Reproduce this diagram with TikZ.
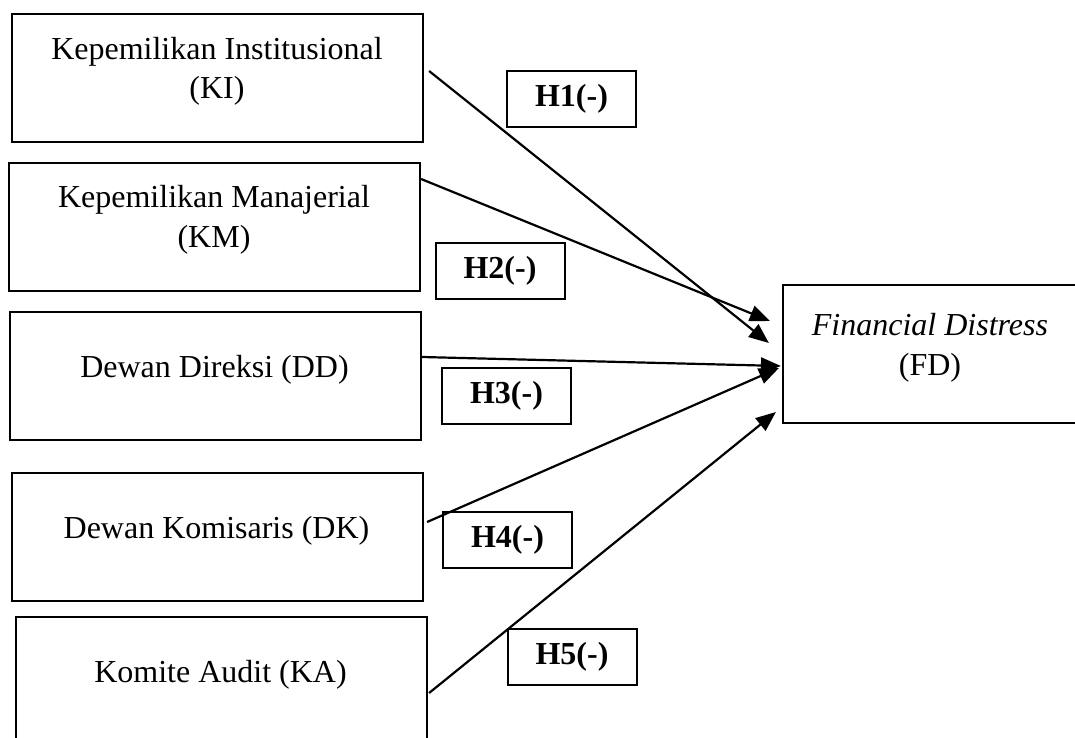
\documentclass[tikz,border=0pt]{standalone}
\usepackage{fontspec}
\setmainfont{Liberation Serif}
\usetikzlibrary{arrows.meta,calc}
\begin{document}
\begin{tikzpicture}[x=0.5pt,y=-0.5pt,
  box/.style={draw, line width=1.1pt, rectangle, inner sep=0pt, minimum width=205.5pt, minimum height=64pt},
  txt/.style={inner sep=0pt, anchor=base, font=\fontsize{16}{19}\selectfont},
  hyp/.style={draw, line width=1pt, rectangle, inner sep=0pt, minimum width=64.5pt, minimum height=28pt, font=\fontsize{16}{19}\selectfont\bfseries},
  conn/.style={line width=1.1pt, -{Triangle[length=10pt,width=8pt]}}]
\clip (0,0) rectangle (1075,738);
% source boxes
\node[box] (KI) at (217.5,78) {};
\node[box] (KM) at (214.5,227) {};
\node[box] (DD) at (215.5,376) {};
\node[box] (DK) at (217.5,537) {};
\node[box] (KA) at (221.5,681) {};
\node[box, minimum width=147pt, minimum height=69pt] (FD) at (930,354) {};
% texts
\node[txt] (KIa) at (217,60) {Kepemilikan Institusional};
\node[txt] (KIb) at (217,98) {(KI)};
\node[txt] (KMa) at (214,207) {Kepemilikan Manajerial};
\node[txt] (KMb) at (214,247) {(KM)};
\node[txt] (DDa) at (214.5,377) {Dewan Direksi (DD)};
\node[txt] (DKa) at (216.5,538) {Dewan Komisaris (DK)};
\node[txt] (KAa) at (220.5,682) {Komite Audit (KA)};
\node[txt] (FDa) at (930,335) {\itshape Financial Distress};
\node[txt] (FDb) at (930,375) {(FD)};
% hypothesis labels
\node[hyp] (H1) at (571.5,99) {H1(-)};
\node[hyp] (H2) at (500,271) {H2(-)};
\node[hyp] (H3) at (506.5,395.5) {H3(-)};
\node[hyp] (H4) at (507.5,540) {H4(-)};
\node[hyp] (H5) at (572,656.5) {H5(-)};
% connectors
\draw[conn] ($(KI.east)+(5,-7)$) -- ($(FD.west)+(-13,-11)$);
\draw[conn] ($(KM.east)+(0,-48)$) -- ($(FD.west)+(-12,-33)$);
\draw[conn] ($(DD.east)+(0,-19)$) -- ($(FD.west)+(-1,12)$);
\draw[conn] ($(DK.east)+(3,-15)$) -- ($(FD.west)+(-3,14)$);
\draw[conn] ($(KA.east)+(1,12)$) -- ($(FD.west)+(-6,58)$);
\end{tikzpicture}
\end{document}
